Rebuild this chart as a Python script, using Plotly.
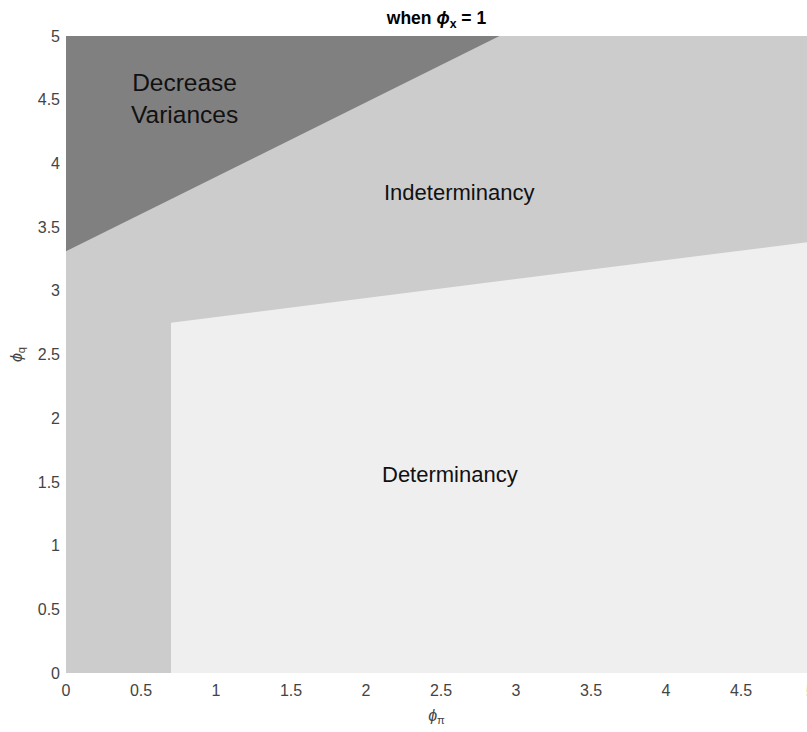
import plotly.graph_objects as go

# Axis extents
x_min, x_max = 0.0, 5.0
y_min, y_max = 0.0, 5.0
x_view_max = 4.94  # visible part of the x axis (picture is cut at the right)

# Boundary of "Decrease Variances" region (line from left edge to top edge)
dec_x = [0.0, 2.89]
dec_y = [3.31, 5.0]

# Boundary of "Determinancy" region
det_left_x = 0.70
det_top_x = [0.70, 5.0]
det_top_y = [2.75, 3.39]

# Region labels
label_text = ["Decrease<br>Variances", "Indeterminancy", "Determinancy"]
label_x = [0.79, 2.62, 2.56]
label_y = [4.51, 3.77, 1.555]
label_size = [24.5, 22, 22]

x_ticks = [0, 0.5, 1, 1.5, 2, 2.5, 3, 3.5, 4, 4.5, 5]
y_ticks = [0, 0.5, 1, 1.5, 2, 2.5, 3, 3.5, 4, 4.5, 5]

C_DARK = "#808080"
C_MID = "#cccccc"
C_LIGHT = "#efefef"
FONT = "Arial, Liberation Sans, sans-serif"

fig = go.Figure()

# Indeterminancy (whole area)
fig.add_trace(go.Scatter(
    x=[x_min, x_max, x_max, x_min, x_min],
    y=[y_min, y_min, y_max, y_max, y_min],
    fill="toself", fillcolor=C_MID, mode="lines", line=dict(width=0),
    hoverinfo="skip", showlegend=False))

# Decrease Variances (triangle top-left)
fig.add_trace(go.Scatter(
    x=[dec_x[0], dec_x[1], x_min, dec_x[0]],
    y=[dec_y[0], dec_y[1], y_max, dec_y[0]],
    fill="toself", fillcolor=C_DARK, mode="lines", line=dict(width=0),
    hoverinfo="skip", showlegend=False))

# Determinancy
fig.add_trace(go.Scatter(
    x=[det_left_x, x_max, det_top_x[1], det_top_x[0], det_left_x],
    y=[y_min, y_min, det_top_y[1], det_top_y[0], y_min],
    fill="toself", fillcolor=C_LIGHT, mode="lines", line=dict(width=0),
    hoverinfo="skip", showlegend=False))

for t, xx, yy, s in zip(label_text, label_x, label_y, label_size):
    fig.add_annotation(x=xx, y=yy, xref="x", yref="y", text=t, showarrow=False,
                       font=dict(family=FONT, size=s, color="#111111"))

# partially visible "5" tick at the cut-off right edge
fig.add_annotation(x=x_view_max, y=y_min, xref="x", yref="y", text=str(x_ticks[-1]),
                   showarrow=False, xanchor="left", yanchor="top", xshift=-3, yshift=-8,
                   font=dict(family=FONT, size=16, color="#444444"))

fig.update_layout(
    width=807, height=732,
    margin=dict(l=66, r=0, t=36, b=59),
    paper_bgcolor="white", plot_bgcolor="white",
    font=dict(family=FONT, size=16, color="#444444"),
    title=dict(text="<b>when <i>ϕ</i><sub>x</sub> = 1</b>", x=0.5, xref="paper",
               xanchor="center", y=0.975, yref="container", yanchor="middle",
               font=dict(family=FONT, size=17.5, color="#000000")),
    xaxis=dict(range=[x_min, x_view_max], tickvals=x_ticks, ticktext=[str(v) for v in x_ticks],
               showgrid=False, zeroline=False, showline=False, ticks="",
               ticklabelstandoff=6,
               title=dict(text="<i>ϕ</i><sub>π</sub>", standoff=11,
                          font=dict(family=FONT, size=16, color="#444444"))),
    yaxis=dict(range=[y_min, y_max], tickvals=y_ticks, ticktext=[str(v) for v in y_ticks],
               showgrid=False, zeroline=False, showline=False, ticks="",
               ticklabelstandoff=5,
               title=dict(text="<i>ϕ</i><sub>q</sub>", standoff=11,
                          font=dict(family=FONT, size=16, color="#444444"))),
)

fig.write_html(
    "out.html",
    config={"displayModeBar": False},
    post_script="document.body.style.margin='0';document.body.style.overflow='hidden';",
)
